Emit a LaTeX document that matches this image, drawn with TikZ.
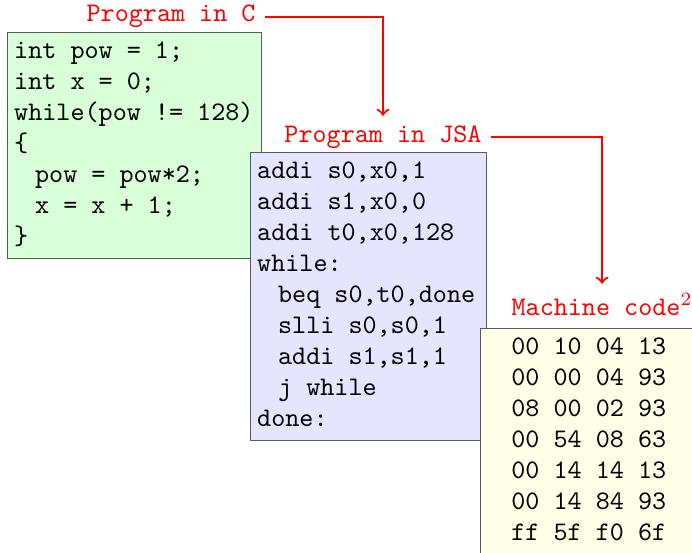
\documentclass[tikz,border=0pt]{standalone}
\usetikzlibrary{positioning}

\tikzset{
  codebox/.style={draw=black!65, line width=0.4pt, anchor=north west,
                  align=left, inner xsep=2.5pt, inner ysep=1.7pt,
                  font=\ttfamily\fontsize{10}{11.56}\selectfont,
                  % keep the full width of a typewriter space
                  execute at begin node={\spaceskip=0.525em\xspaceskip=0.525em\relax}},
  tag/.style={text=red, font=\ttfamily, anchor=base east},
  flow/.style={red, line width=0.8pt, ->},
}
\newcommand\codeind{\hspace*{7.8pt}}

\begin{document}
\begin{tikzpicture}[x=0.373pt,y=0.373pt]
  \clip (0,0) rectangle (692,552);

  % the three listings, each one over the last
  \node[codebox, fill=green!15, text width=89.7pt] (csrc) at (7,520) {%
    \strut int pow = 1;\\
    int x = 0;\\
    while(pow != 128)\\
    \{\\
    \codeind pow = pow*2;\\
    \codeind x = x + 1;\\
    \}\strut};
  \node[codebox, fill=blue!10, text width=83pt] (jsa) at (250,400) {%
    \strut addi s0,x0,1\\
    addi s1,x0,0\\
    addi t0,x0,128\\
    while:\\
    \codeind beq s0,t0,done\\
    \codeind slli s0,s0,1\\
    \codeind addi s1,s1,1\\
    \codeind j while\\
    done:\strut};
  \node[codebox, fill=yellow!10, inner xsep=11.5pt, text width=60pt] (mcode) at (480,224) {%
    \strut 00 10 04 13\\
    00 00 04 93\\
    08 00 02 93\\
    00 54 08 63\\
    00 14 14 13\\
    00 14 84 93\\
    ff 5f f0 6f\strut};

  % labels
  \node[tag] (clab) at (265,530) {Program in C};
  \node[tag] (jlab) at (491,410) {Program in JSA};
  \node[tag] (mlab) at (702,237) {Machine code$^2$};

  \draw[flow] (clab.east) -| (jlab.north);
  \draw[flow] (jlab.east) -| (mlab.north);
\end{tikzpicture}
\end{document}
